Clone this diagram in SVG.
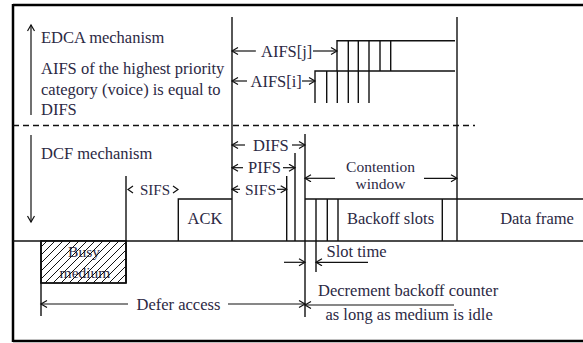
<svg xmlns="http://www.w3.org/2000/svg" width="583" height="343" viewBox="0 0 583 343">
<style>
text{font-family:"Liberation Serif","Times New Roman",serif;font-size:16.5px;fill:#2c2944}
.ln{stroke:#111;stroke-width:1.4;fill:none}
.ar{stroke:#111;stroke-width:1.2;fill:none;marker-end:url(#hd)}
.al{stroke:#111;stroke-width:1.2;fill:none;marker-start:url(#hd)}
.mid{text-anchor:middle}
</style>
<defs>
<marker id="hd" markerUnits="userSpaceOnUse" markerWidth="10" markerHeight="10" refX="7" refY="4" orient="auto-start-reverse">
<path d="M1,0.5 L7,4 L1,7.5" stroke="#111" stroke-width="1.2" fill="none"/>
</marker>
<pattern id="hatch" patternUnits="userSpaceOnUse" width="8" height="8">
<path d="M-2,2 L2,-2 M0,8 L8,0 M6,10 L10,6" stroke="#111" stroke-width="1"/>
</pattern>
</defs>
<rect width="583" height="343" fill="#fff"/>
<g id="frame">
<path d="M13,5 H583 M13,341 H583 M13,4 V342" stroke="#000" stroke-width="2.5" fill="none"/>
<path d="M13,125.5 H475" stroke="#111" stroke-width="1.3" stroke-dasharray="6,4"/>
<path d="M13,241 H583" class="ln"/>
</g>
<g id="edca">
<line x1="31" y1="115" x2="31" y2="25" class="ar"/>
<text x="41" y="43">EDCA mechanism</text>
<text x="41" y="74">AIFS of the highest priority</text>
<text x="41" y="95">category (voice) is equal to</text>
<text x="41" y="115">DIFS</text>
</g>
<g id="dcf">
<line x1="31" y1="135" x2="31" y2="222" class="ar"/>
<text x="41" y="159">DCF mechanism</text>
</g>
<g id="aifs-j">
<path d="M337,71 V40.7 H455 M348.3,40.7 V71 M358.3,40.7 V71 M369,40.7 V71 M380,40.7 V71 M390.7,40.7 V71" class="ln"/>
<text x="261" y="56.5">AIFS[j]</text>
</g>
<g id="aifs-i">
<path d="M315,103 V71 H455 M326.7,71 V103 M337.3,71 V103 M348.3,71 V103 M358.3,71 V103 M369,71 V103" class="ln"/>
<text x="250.5" y="86.5">AIFS[i]</text>
</g>
<g id="busy">
<rect x="41" y="241" width="85" height="42" fill="#fff" stroke="#111" stroke-width="1.4"/>
<text x="84" y="257" class="mid" style="font-size:15.5px">Busy</text>
<text x="85" y="278" class="mid" style="font-size:15.5px">medium</text>
<rect x="41" y="241" width="85" height="42" fill="url(#hatch)" stroke="#111" stroke-width="1.4"/>
</g>
<g id="ack">
<path d="M178.3,241 V199 H232" class="ln"/>
<text x="205" y="224" class="mid">ACK</text>
</g>
<g id="backoff">
<path d="M305,199 H583 M316,199 V272 M327.3,199 V241 M338,199 V241 M442.3,199 V241" class="ln"/>
<text x="390.5" y="224" class="mid">Backoff slots</text>
</g>
<g id="data">
<text x="537" y="224" class="mid">Data frame</text>
</g>
<g id="contention">
<text x="380.5" y="171.5" class="mid" style="font-size:15.5px">Contention</text>
<text x="380.5" y="189.2" class="mid" style="font-size:15.5px">window</text>
</g>
<g id="labels">
<text x="140" y="195" style="font-size:15px">SIFS</text>
<text x="253" y="150.5">DIFS</text>
<text x="248" y="173">PIFS</text>
<text x="245" y="195" style="font-size:15.5px">SIFS</text>
<text x="326.5" y="257">Slot time</text>
<text x="136.5" y="310">Defer access</text>
<text x="318" y="296">Decrement backoff counter</text>
<text x="325.5" y="319.5">as long as medium is idle</text>
</g>
<g id="connectors">
<path d="M126,176 V283 M232,17 V241 M286.7,176 V241 M295,153 V241 M305,134 V317 M457,17 V241 M41,241 V316" class="ln"/>
<path d="M133,186 L128,189.5 L133,193 M173,186 L178,189.5 L173,193" stroke="#111" stroke-width="1.2" fill="none"/>
<line x1="232" y1="51" x2="256" y2="51" class="al"/>
<line x1="313" y1="51" x2="337" y2="51" class="ar"/>
<line x1="232" y1="81" x2="247" y2="81" class="al"/>
<line x1="302" y1="81" x2="315" y2="81" class="ar"/>
<line x1="232" y1="145" x2="245" y2="145" class="al"/>
<line x1="292" y1="145" x2="305" y2="145" class="ar"/>
<line x1="232" y1="167.7" x2="243" y2="167.7" class="al"/>
<line x1="283" y1="167.7" x2="295" y2="167.7" class="ar"/>
<line x1="232" y1="189.3" x2="240" y2="189.3" class="al"/>
<line x1="277" y1="189.3" x2="286.7" y2="189.3" class="ar"/>
<line x1="305" y1="178.3" x2="335" y2="178.3" class="al"/>
<line x1="424" y1="178.3" x2="457" y2="178.3" class="ar"/>
<line x1="41" y1="304" x2="128" y2="304" class="al"/>
<line x1="228" y1="304" x2="305" y2="304" class="ar"/>
<line x1="284" y1="262.3" x2="305" y2="262.3" class="ar"/>
<line x1="316" y1="262.3" x2="368" y2="262.3" class="al"/>
<line x1="305" y1="305" x2="454" y2="305" class="al"/>
</g>
</svg>
